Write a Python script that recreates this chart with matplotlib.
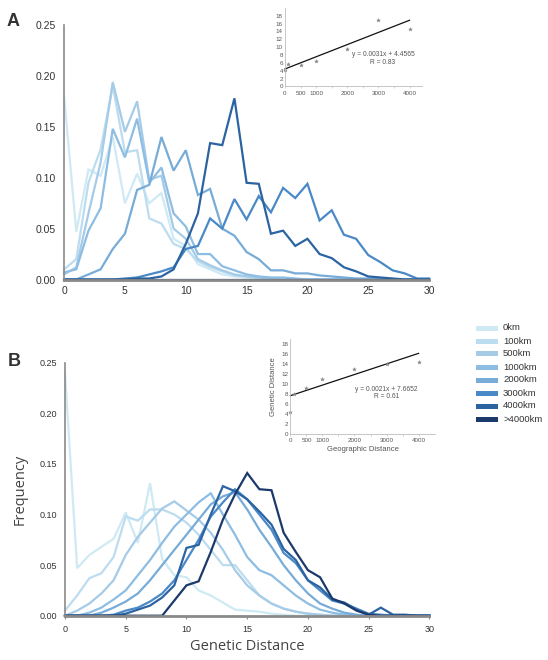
import matplotlib
matplotlib.use("Agg")
import matplotlib.pyplot as plt
import numpy as np
from matplotlib.patches import Rectangle

plt.rcParams['font.family'] = ['Liberation Sans', 'DejaVu Sans']

# ---------------- data ----------------
genetic_distance = list(range(31))
labels = ['0km', '100km', '500km', '1000km', '2000km', '3000km', '4000km', '>4000km']
colors = ['#cfeaf4', '#bcdcef', '#a6cbe7', '#8dbde3', '#77acd8', '#4a89c7', '#2c64a2', '#1b3a6b']

A_0km = [0.180, 0.047, 0.108, 0.102, 0.140, 0.075, 0.104, 0.075, 0.085, 0.040, 0.033, 0.015, 0.010, 0.005, 0.003, 0.002, 0.001, 0.001, 0, 0, 0, 0, 0, 0, 0, 0, 0, 0, 0, 0, 0]
A_100km = [0.010, 0.020, 0.095, 0.128, 0.190, 0.125, 0.127, 0.060, 0.055, 0.035, 0.030, 0.018, 0.012, 0.008, 0.004, 0.003, 0.002, 0.001, 0, 0, 0, 0, 0, 0, 0, 0, 0, 0, 0, 0, 0]
A_500km = [0.005, 0.012, 0.065, 0.115, 0.194, 0.145, 0.175, 0.098, 0.102, 0.050, 0.040, 0.020, 0.014, 0.009, 0.005, 0.003, 0.002, 0.001, 0, 0, 0, 0, 0, 0, 0, 0, 0, 0, 0, 0, 0]
A_1000km = [0.007, 0.010, 0.048, 0.070, 0.148, 0.120, 0.158, 0.095, 0.110, 0.065, 0.052, 0.025, 0.025, 0.013, 0.009, 0.005, 0.003, 0.002, 0.002, 0.001, 0, 0, 0, 0, 0, 0, 0, 0, 0, 0, 0]
A_2000km = [0.000, 0.000, 0.005, 0.010, 0.030, 0.045, 0.088, 0.093, 0.140, 0.107, 0.127, 0.083, 0.089, 0.050, 0.043, 0.027, 0.020, 0.009, 0.009, 0.006, 0.006, 0.004, 0.003, 0.002, 0.001, 0.001, 0.001, 0, 0, 0, 0]
A_3000km = [0, 0, 0, 0, 0, 0.001, 0.002, 0.005, 0.008, 0.012, 0.030, 0.033, 0.060, 0.050, 0.079, 0.059, 0.082, 0.066, 0.090, 0.080, 0.094, 0.058, 0.068, 0.044, 0.040, 0.024, 0.017, 0.009, 0.006, 0.001, 0.001]
A_4000km = [0, 0, 0, 0, 0, 0, 0.001, 0.001, 0.003, 0.010, 0.035, 0.065, 0.134, 0.132, 0.178, 0.095, 0.094, 0.045, 0.048, 0.033, 0.040, 0.025, 0.021, 0.012, 0.008, 0.003, 0.002, 0.001, 0, 0, 0]
A_gt4000km = [0] * 31

B_0km = [0.240, 0.047, 0.060, 0.068, 0.076, 0.102, 0.072, 0.131, 0.056, 0.040, 0.038, 0.025, 0.020, 0.013, 0.006, 0.005, 0.004, 0.002, 0.001, 0, 0, 0, 0, 0, 0, 0, 0, 0, 0, 0, 0]
B_100km = [0.005, 0.020, 0.037, 0.042, 0.058, 0.098, 0.094, 0.105, 0.105, 0.100, 0.092, 0.080, 0.065, 0.050, 0.050, 0.035, 0.020, 0.012, 0.007, 0.004, 0.002, 0.001, 0, 0, 0, 0, 0, 0, 0, 0, 0]
B_500km = [0.000, 0.005, 0.012, 0.022, 0.035, 0.060, 0.078, 0.092, 0.106, 0.113, 0.104, 0.095, 0.082, 0.065, 0.045, 0.030, 0.020, 0.012, 0.007, 0.004, 0.002, 0.001, 0, 0, 0, 0, 0, 0, 0, 0, 0]
B_1000km = [0, 0, 0.003, 0.008, 0.016, 0.025, 0.040, 0.055, 0.072, 0.088, 0.100, 0.112, 0.121, 0.100, 0.080, 0.058, 0.045, 0.040, 0.030, 0.020, 0.012, 0.006, 0.003, 0.001, 0, 0, 0, 0, 0, 0, 0]
B_2000km = [0, 0, 0, 0.003, 0.008, 0.014, 0.022, 0.035, 0.050, 0.065, 0.080, 0.095, 0.110, 0.118, 0.122, 0.105, 0.085, 0.068, 0.050, 0.035, 0.022, 0.012, 0.007, 0.003, 0.001, 0, 0, 0, 0, 0, 0]
B_3000km = [0, 0, 0, 0, 0.001, 0.005, 0.008, 0.014, 0.022, 0.035, 0.055, 0.075, 0.098, 0.112, 0.125, 0.115, 0.100, 0.085, 0.062, 0.052, 0.035, 0.025, 0.015, 0.012, 0.007, 0.002, 0.001, 0, 0, 0, 0]
B_4000km = [0, 0, 0, 0, 0, 0.002, 0.006, 0.010, 0.018, 0.030, 0.067, 0.070, 0.100, 0.128, 0.123, 0.115, 0.103, 0.090, 0.066, 0.055, 0.035, 0.028, 0.016, 0.013, 0.006, 0.001, 0.008, 0.001, 0.001, 0, 0]
B_gt4000km = [0, 0, 0, 0, 0, 0, 0, 0, 0, 0.015, 0.030, 0.034, 0.063, 0.095, 0.120, 0.141, 0.125, 0.124, 0.082, 0.063, 0.045, 0.038, 0.017, 0.012, 0.005, 0.001, 0, 0, 0, 0, 0]

series_A = [A_0km, A_100km, A_500km, A_1000km, A_2000km, A_3000km, A_4000km, A_gt4000km]
series_B = [B_0km, B_100km, B_500km, B_1000km, B_2000km, B_3000km, B_4000km, B_gt4000km]

geo_km = [0, 100, 500, 1000, 2000, 3000, 4000]
inset_A_gen = [4.3, 5.6, 5.5, 6.6, 9.6, 17.0, 14.7]
inset_B_gen = [4.4, 7.9, 9.2, 11.0, 13.0, 14.0, 14.3]
fit_A = (0.0031, 4.4565, 0.83)
fit_B = (0.0021, 7.6652, 0.61)

# ---------------- figure ----------------
fig = plt.figure(figsize=(5.48, 6.60), dpi=100)

def style_main(ax, fs, xtick_len):
    ax.set_xlim(0, 30)
    ax.set_ylim(0, 0.25)
    ax.set_xticks([0, 5, 10, 15, 20, 25, 30])
    ax.set_yticks([0, 0.05, 0.10, 0.15, 0.20, 0.25])
    ax.set_yticklabels(['0.00', '0.05', '0.10', '0.15', '0.20', '0.25'])
    for s in ['top', 'right']:
        ax.spines[s].set_visible(False)
    ax.spines['left'].set_color('#8a8a8a')
    ax.spines['left'].set_linewidth(1.2)
    ax.spines['bottom'].set_color('#8a8a8a')
    ax.spines['bottom'].set_linewidth(2.0)
    ax.tick_params(axis='y', length=0, pad=6, labelsize=fs, labelcolor='#333333')
    ax.tick_params(axis='x', length=xtick_len, color='#8a8a8a', pad=5, labelsize=fs, labelcolor='#333333')

def draw_series(ax, series):
    for vals, c in zip(series, colors):
        ax.plot(genetic_distance, vals, color=c, lw=1.6, solid_joinstyle='miter', clip_on=False)

axA = fig.add_axes([0.117, 0.5765, 0.666, 0.3856])
draw_series(axA, series_A)
style_main(axA, 7.5, 0)

axB = fig.add_axes([0.1186, 0.0671, 0.665, 0.3833])
draw_series(axB, series_B)
style_main(axB, 6.5, 2)
axB.set_ylabel('Frequency', family=['Open Sans', 'DejaVu Sans'], fontsize=10.5, color='#444444', labelpad=8)
axB.set_xlabel('Genetic Distance', family=['Open Sans', 'DejaVu Sans'], fontsize=10.5, color='#444444', labelpad=3)

fig.text(0.012, 0.968, 'A', fontsize=13, fontweight='bold', color='#333333', va='center')
fig.text(0.015, 0.453, 'B', fontsize=13, fontweight='bold', color='#333333', va='center')

def style_inset(ax, fit, gen):
    ax.set_xlim(0, 4400)
    ax.set_ylim(0, 20)
    ax.set_xticks([0, 500, 1000, 2000, 3000, 4000])
    ax.set_xticks([1500, 2500, 3500], minor=True)
    ax.set_yticks(range(0, 19, 2))
    for s in ['top', 'right']:
        ax.spines[s].set_visible(False)
    ax.spines['left'].set_color('#bdbdbd')
    ax.spines['bottom'].set_color('#bdbdbd')
    ax.spines['left'].set_linewidth(0.6)
    ax.spines['bottom'].set_linewidth(0.6)
    ax.tick_params(axis='both', which='both', labelsize=4.5, labelcolor='#555555', color='#bdbdbd', length=1.5, width=0.5, pad=1.5)
    ax.tick_params(axis='y', length=0)
    ax.patch.set_alpha(0)
    slope, icpt, r = fit
    xs = np.array([0, 4000])
    ax.plot(xs, slope * xs + icpt, color='#111111', lw=0.9, clip_on=False)
    ax.plot(geo_km, gen, linestyle='none', marker='*', ms=2.8, color='#888888', mec='#888888', mew=0.3, clip_on=False)

insA = fig.add_axes([0.520, 0.869, 0.250, 0.119])
style_inset(insA, fit_A, inset_A_gen)
insA.text(3150, 7.1, 'y = %.4fx + %.4f\nR = %.2f' % fit_A, fontsize=4.8, color='#555555', ha='center', va='center', linespacing=1.1)

insB = fig.add_axes([0.530, 0.342, 0.263, 0.145])
style_inset(insB, fit_B, inset_B_gen)
insB.set_xlim(0, 4500)
insB.set_ylim(0, 19)
insB.text(3000, 8.2, 'y = %.4fx + %.4f\nR = %.2f' % fit_B, fontsize=4.8, color='#555555', ha='center', va='center', linespacing=1.1)
insB.set_ylabel('Genetic Distance', fontsize=5.5, color='#555555', labelpad=3)
insB.set_xlabel('Geographic Distance', fontsize=5.5, color='#555555', labelpad=1.5)

# legend
leg_top = 1 - 328 / 660.0
step = 13 / 660.0
for i, (lab, c) in enumerate(zip(labels, colors)):
    y = leg_top - i * step
    fig.patches.append(Rectangle((476 / 548.0, y - 2.5 / 660.0), 22 / 548.0, 5 / 660.0,
                                 transform=fig.transFigure, facecolor=c, edgecolor='none'))
    fig.text(503 / 548.0, y, lab, fontsize=6.8, color='#333333', va='center', ha='left')

fig.savefig('out.png', dpi=100, facecolor='white')
